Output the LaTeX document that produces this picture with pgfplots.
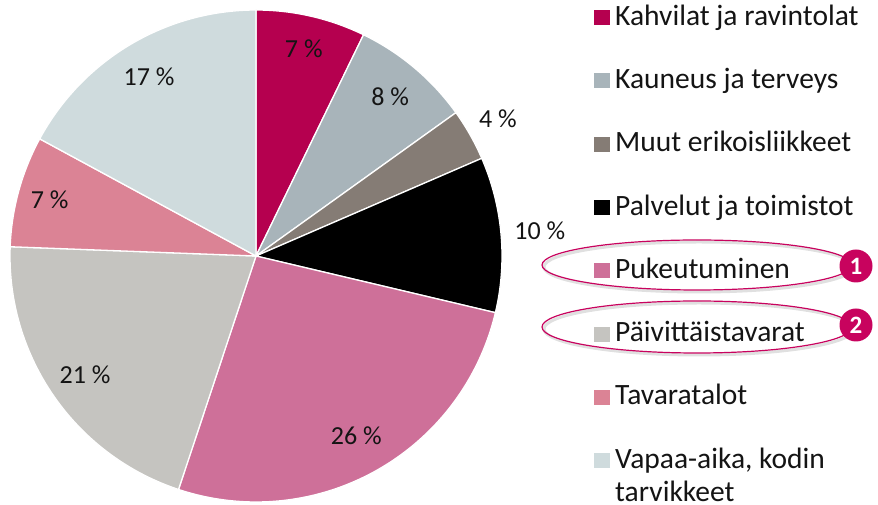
\documentclass[border=0pt]{standalone}
\usepackage{pgfplots}
\pgfplotsset{compat=1.18}
\usepackage{fontspec}
\setmainfont{Carlito}
\definecolor{cKah}{HTML}{B5004F}
\definecolor{cKau}{HTML}{A8B4BA}
\definecolor{cMuu}{HTML}{857C75}
\definecolor{cPal}{HTML}{000000}
\definecolor{cPuk}{HTML}{CE7099}
\definecolor{cPai}{HTML}{C5C4C0}
\definecolor{cTav}{HTML}{DB8395}
\definecolor{cVap}{HTML}{CFDBDD}
\definecolor{cHi}{HTML}{C8035E}
\definecolor{txt}{HTML}{141414}

% shares in per cent
\def\vA{7.2}\def\vB{7.9}\def\vC{3.4}\def\vD{10.2}
\def\vE{26.4}\def\vF{20.5}\def\vG{7.3}\def\vH{17.1}

\pgfmathsetmacro\aA{90}
\pgfmathsetmacro\aB{\aA-3.6*\vA}
\pgfmathsetmacro\aC{\aB-3.6*\vB}
\pgfmathsetmacro\aD{\aC-3.6*\vC}
\pgfmathsetmacro\aE{\aD-3.6*\vD}
\pgfmathsetmacro\aF{\aE-3.6*\vE}
\pgfmathsetmacro\aG{\aF-3.6*\vF}
\pgfmathsetmacro\aH{\aG-3.6*\vG}
\pgfmathsetmacro\aI{\aH-3.6*\vH}

\newcommand\cx{256}
\newcommand\cy{249}
\newcommand\R{246}
\newcommand\leg{\fontsize{29.5}{34}\selectfont}
\newcommand\lab{\fontsize{26}{30}\selectfont}

\newcommand\slice[3]{%
  \addplot[draw=white, line width=1.3pt, fill=#1, domain=#3:#2, samples=90, line join=round]
    ({\cx+\R*cos(x)},{\cy+\R*sin(x)}) -- (axis cs:\cx,\cy) -- cycle;}
\newcommand\plabel[3]{%
  \node[font=\lab, text=txt] at (axis cs:{\cx+#2*cos(#1)},{\cy+#2*sin(#1)}) {#3};}

\begin{document}
\begin{tikzpicture}
\begin{axis}[
  x=1pt, y=1pt, xmin=0, xmax=878, ymin=0, ymax=505,
  scale only axis, hide axis, clip=false,
  legend cell align=left,
  legend image code/.code={\fill[#1,draw=none] (0pt,-7.5pt) rectangle (16pt,7.5pt);},
  legend style={at={(axis cs:594,500)}, anchor=north west, draw=none, fill=none,
    inner sep=0pt, font=\leg, text=txt, row sep=38.3pt,
    nodes={inner sep=0pt, text height=20pt, text depth=5pt},
    /tikz/every odd column/.append style={column sep=5pt}},
]
\coordinate (SW) at (axis cs:0,0);
\coordinate (NE) at (axis cs:878,505);

\slice{cKah}{\aA}{\aB}
\slice{cKau}{\aB}{\aC}
\slice{cMuu}{\aC}{\aD}
\slice{cPal}{\aD}{\aE}
\slice{cPuk}{\aE}{\aF}
\slice{cPai}{\aF}{\aG}
\slice{cTav}{\aG}{\aH}
\slice{cVap}{\aH}{\aI}

\legend{Kahvilat ja ravintolat, Kauneus ja terveys, Muut erikoisliikkeet,
  Palvelut ja toimistot, Pukeutuminen, Päivittäistavarat, Tavaratalot, {Vapaa-aika, kodin}}

\plabel{(\aA+\aB)/2}{213}{7 \%}
\plabel{(\aB+\aC)/2}{208}{8 \%}
\plabel{(\aC+\aD)/2}{278}{4 \%}
\plabel{(\aD+\aE)/2}{285}{10 \%}
\plabel{(\aE+\aF)/2}{206}{26 \%}
\plabel{(\aF+\aG)/2}{208}{21 \%}
\plabel{(\aG+\aH)/2}{214}{7 \%}
\plabel{(\aH+\aI)/2}{209}{17 \%}

\node[anchor=base west, font=\leg, text=txt, inner sep=0pt] at (axis cs:615,3) {tarvikkeet};

% highlight ellipses
\draw[black!35, opacity=0.35, line width=3pt] (axis cs:699,238) ellipse [x radius=155pt, y radius=25pt];
\draw[cHi, line width=1.2pt] (axis cs:697,240) ellipse [x radius=155pt, y radius=25pt];
\draw[black!35, opacity=0.35, line width=3pt] (axis cs:699,176) ellipse [x radius=155pt, y radius=26pt];
\draw[cHi, line width=1.2pt] (axis cs:697,178) ellipse [x radius=155pt, y radius=26pt];
\fill[cHi] (axis cs:856,239) circle [radius=16.5pt];
\fill[cHi] (axis cs:856,180) circle [radius=16.5pt];
\node[text=white, font=\fontsize{25}{30}\selectfont\bfseries] at (axis cs:856,239) {1};
\node[text=white, font=\fontsize{25}{30}\selectfont\bfseries] at (axis cs:856,180) {2};
\end{axis}
\pgfresetboundingbox
\path (SW) rectangle (NE);
\end{tikzpicture}
\end{document}
